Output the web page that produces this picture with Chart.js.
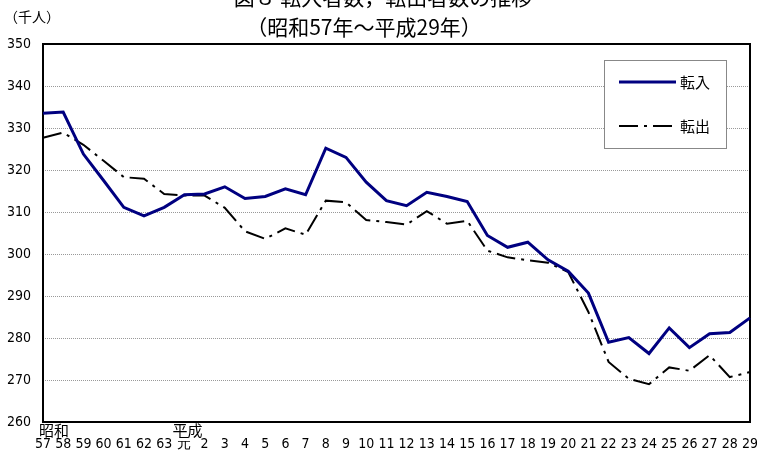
<!DOCTYPE html>
<html>
<head>
<meta charset="utf-8">
<script src="https://cdn.jsdelivr.net/npm/chart.js@4"></script>
<style>
  html, body { margin: 0; padding: 0; background: #fff; }
  #wrap { position: relative; width: 757px; height: 453px; }
</style>
</head>
<body>
<div id="wrap"><canvas id="moveChart" width="757" height="453"></canvas></div>
<script>
// 年次ラベル（昭和57年～平成29年）
const years = ["57","58","59","60","61","62","63","元","2","3","4","5","6","7","8","9","10","11","12","13","14","15","16","17","18","19","20","21","22","23","24","25","26","27","28","29"];

// 転入者数（千人）
const tennyu = [333.5, 333.8, 323.8, 317.5, 311.1, 309.1, 311.1, 314.1, 314.3, 316.0,
                313.2, 313.7, 315.5, 314.1, 325.2, 323.0, 317.1, 312.7, 311.5, 314.7,
                313.7, 312.5, 304.4, 301.6, 302.8, 298.6, 295.9, 290.7, 279.0, 280.1,
                276.3, 282.4, 277.7, 281.0, 281.3, 284.8];

// 転出者数（千人）
const tenshutsu = [327.7, 328.9, 326.0, 322.2, 318.3, 317.9, 314.3, 313.9, 313.9, 311.0,
                   305.4, 303.6, 306.1, 304.6, 312.7, 312.3, 308.1, 307.6, 307.0, 310.2,
                   307.2, 307.9, 300.8, 299.2, 298.5, 297.9, 295.7, 286.2, 274.3, 270.3,
                   269.0, 273.0, 272.2, 275.9, 270.7, 271.9];

// 元号ラベル（位置はx軸の目盛りから）
const eras = [{ index: 0, text: "昭和", shift: 11 }, { index: 7, text: "平成", shift: 3 }];

const JP = "'Noto Sans CJK JP', 'Noto Sans', sans-serif";
const NUM = "'Liberation Sans Narrow', 'DejaVu Sans Condensed', 'Liberation Sans', sans-serif";
const DASH_DOT = [19, 6, 3, 6];

// 枠線・タイトル・凡例・元号を描く
const decorPlugin = {
    id: "decor",
    beforeDatasetsDraw(chart) {
        const { ctx, chartArea: a } = chart;
        ctx.save();
        ctx.strokeStyle = "#000";
        ctx.lineWidth = 2;
        ctx.strokeRect(a.left, a.top, a.right - a.left, a.bottom - a.top);
        ctx.restore();
    },
    afterDraw(chart) {
        const { ctx, scales } = chart;
        ctx.save();
        ctx.fillStyle = "#000";
        ctx.textAlign = "center";
        ctx.textBaseline = "middle";

        // タイトル
        ctx.font = "21px " + JP;
        ctx.fillText("図８ 転入者数，転出者数の推移", 383, -3);
        ctx.fillText("（昭和57年～平成29年）", 364, 27);

        // 単位
        ctx.font = "14px " + JP;
        ctx.fillText("（千人）", 32, 17);

        // 元号
        ctx.font = "15px " + JP;
        eras.forEach(e => {
            ctx.fillText(e.text, scales.x.getPixelForValue(e.index) + e.shift, 430);
        });

        // 凡例
        const bx = 604, by = 60, bw = 122, bh = 88;
        ctx.fillStyle = "#fff";
        ctx.fillRect(bx, by, bw, bh);
        ctx.strokeStyle = "#888";
        ctx.lineWidth = 1;
        ctx.strokeRect(bx + 0.5, by + 0.5, bw, bh);

        chart.data.datasets.forEach((ds, i) => {
            const y = i === 0 ? 82 : 126;
            ctx.strokeStyle = ds.borderColor;
            ctx.lineWidth = ds.borderWidth;
            ctx.setLineDash(ds.borderDash || []);
            ctx.beginPath();
            ctx.moveTo(619, y);
            ctx.lineTo(676, y);
            ctx.stroke();
            ctx.setLineDash([]);
            ctx.fillStyle = "#000";
            ctx.textAlign = "left";
            ctx.font = "15px " + JP;
            ctx.fillText(ds.label, 680, y);
        });
        ctx.restore();
    }
};

new Chart(document.getElementById("moveChart"), {
    type: "line",
    data: {
        labels: years,
        datasets: [
            {
                label: "転入",
                data: tennyu,
                borderColor: "#000080",
                borderWidth: 3,
                pointRadius: 0,
                tension: 0,
                fill: false
            },
            {
                label: "転出",
                data: tenshutsu,
                borderColor: "#000",
                borderWidth: 2,
                borderDash: DASH_DOT,
                pointRadius: 0,
                tension: 0,
                fill: false
            }
        ]
    },
    options: {
        responsive: false,
        animation: false,
        layout: { padding: { top: 44, right: 7, left: 0, bottom: 0 } },
        plugins: {
            legend: { display: false },
            title: { display: false },
            tooltip: { enabled: false }
        },
        scales: {
            x: {
                offset: false,
                grid: { display: false, drawTicks: false },
                border: { display: false },
                ticks: {
                    color: "#000",
                    font: { family: NUM, size: 14 },
                    padding: 14,
                    maxRotation: 0,
                    autoSkip: false
                },
                afterFit(scale) {
                    scale.height = 31;
                    scale.paddingLeft = 0;
                    scale.paddingRight = 0;
                }
            },
            y: {
                min: 260,
                max: 350,
                grid: {
                    color: "#999",
                    drawTicks: false
                },
                // v4: border.dash sets the dash of the grid lines
                border: { display: false, dash: [1, 1] },
                ticks: {
                    stepSize: 10,
                    color: "#000",
                    font: { family: NUM, size: 14 },
                    padding: 12
                },
                afterFit(scale) {
                    scale.width = 43;
                    scale.paddingTop = 0;
                    scale.paddingBottom = 0;
                }
            }
        }
    },
    plugins: [decorPlugin]
});
</script>
</body>
</html>
